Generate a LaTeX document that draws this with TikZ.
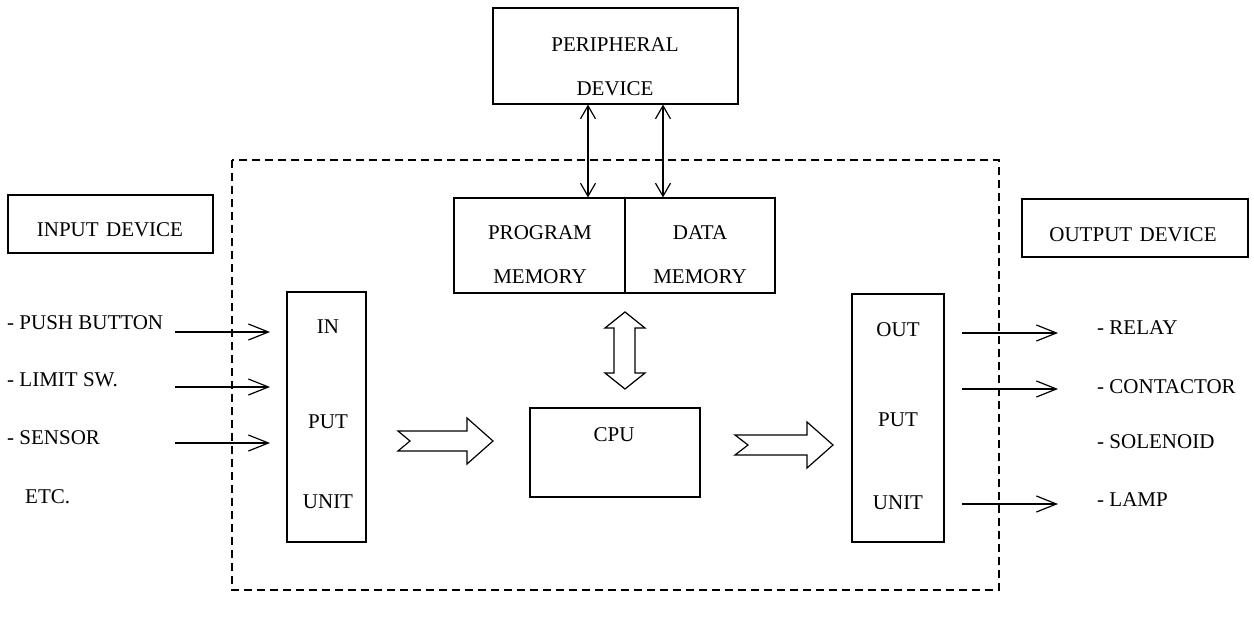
\documentclass[tikz,border=0pt]{standalone}
\usepackage{fontspec}
\setmainfont{Liberation Serif}
\usetikzlibrary{arrows.meta}
\begin{document}
\begin{tikzpicture}[x=1pt,y=-1pt,
  box/.style={draw, line width=1.2pt, inner sep=0pt},
  lbl/.style={font=\fontsize{21}{25}\selectfont, inner sep=0pt},
  sig/.style={line width=1.2pt, -{Straight Barb[length=20pt,width=16pt,line width=1.2pt]}},
  bidir/.style={line width=1.2pt, {Straight Barb[length=13pt,width=15pt,line width=1.2pt]}-{Straight Barb[length=13pt,width=15pt,line width=1.2pt]}},
  hollow/.style={draw, line width=1.2pt, line join=miter},
  frame/.style={draw, line width=2pt, dash pattern=on 8pt off 5pt}]
\useasboundingbox (0,0) rectangle (1254,618);

% dashed PLC frame
\draw[frame] (232,160) rectangle (999,590);

% boxes
\node[box, minimum width=245pt, minimum height=96pt] (per) at (615.5,56) {};
\node[box, minimum width=171pt, minimum height=95pt] (prog) at (539.5,245.5) {};
\node[box, minimum width=150pt, minimum height=95pt] (data) at (700,245.5) {};
\node[box, minimum width=205pt, minimum height=58pt] (indev) at (110.5,224) {};
\node[box, minimum width=226pt, minimum height=58pt] (outdev) at (1135,228) {};
\node[box, minimum width=79pt, minimum height=250pt] (inu) at (326.5,417) {};
\node[box, minimum width=92pt, minimum height=248pt] (outu) at (898,418) {};
\node[box, minimum width=170pt, minimum height=89pt] (cpu) at (615,452.5) {};

% box texts
\node[lbl] (t1) at (615,45) {PERIPHERAL};
\node[lbl] (t2) at (615,89) {DEVICE};
\node[lbl] (t3) at (540,233) {PROGRAM};
\node[lbl] (t4) at (540,277) {MEMORY};
\node[lbl] (t5) at (700,233) {DATA};
\node[lbl] (t6) at (700,277) {MEMORY};
\node[lbl] (t7) at (110,230) {INPUT\hspace{0.35em}DEVICE};
\node[lbl] (t8) at (1133,235) {OUTPUT\hspace{0.35em}DEVICE};
\node[lbl] (t9) at (328,327) {IN};
\node[lbl] (t10) at (328,422) {PUT};
\node[lbl] (t11) at (328,502) {UNIT};
\node[lbl] (t12) at (898,330) {OUT};
\node[lbl] (t13) at (898,420) {PUT};
\node[lbl] (t14) at (898,503) {UNIT};
\node[lbl] (t15) at (614,435) {CPU};

% input labels
\node[lbl, anchor=west] (i1) at (7,323) {- PUSH BUTTON};
\node[lbl, anchor=west] (i2) at (7,380) {- LIMIT SW.};
\node[lbl, anchor=west] (i3) at (7,438) {- SENSOR};
\node[lbl, anchor=west] (i4) at (25,497) {ETC.};

% output labels
\node[lbl, anchor=west] (o1) at (1097,328) {- RELAY};
\node[lbl, anchor=west] (o2) at (1097,387) {- CONTACTOR};
\node[lbl, anchor=west] (o3) at (1097,442) {- SOLENOID};
\node[lbl, anchor=west] (o4) at (1097,500) {- LAMP};

% input arrows
\coordinate (ia1) at (175,332); \coordinate (ib1) at (270,332);
\coordinate (ia2) at (175,387); \coordinate (ib2) at (270,387);
\coordinate (ia3) at (175,443); \coordinate (ib3) at (270,443);
\draw[sig] (ia1) -- (ib1);
\draw[sig] (ia2) -- (ib2);
\draw[sig] (ia3) -- (ib3);

% output arrows
\coordinate (oa1) at (962,333); \coordinate (ob1) at (1058,333);
\coordinate (oa2) at (962,389); \coordinate (ob2) at (1058,389);
\coordinate (oa4) at (962,504); \coordinate (ob4) at (1058,504);
\draw[sig] (oa1) -- (ob1);
\draw[sig] (oa2) -- (ob2);
\draw[sig] (oa4) -- (ob4);

% peripheral <-> memory
\coordinate (px1) at (588,0);
\coordinate (px2) at (663,0);
\draw[bidir] (px1 |- per.south) -- (px1 |- prog.north);
\draw[bidir] (px2 |- per.south) -- (px2 |- data.north);

% hollow arrows: input unit -> CPU, CPU -> output unit
\draw[hollow] (398,431) -- (467,431) -- (467,418) -- (493,441) -- (467,464) -- (467,451) -- (398,451) -- (410,441) -- cycle;
\draw[hollow] (735,435) -- (807,435) -- (807,422) -- (833,445) -- (807,468) -- (807,455) -- (735,455) -- (748,445) -- cycle;

% memory <-> CPU bus arrow
\draw[hollow] (625,312) -- (645,328) -- (635,328) -- (635,373) -- (645,373) -- (625,389) -- (605,373) -- (614,373) -- (614,328) -- (605,328) -- cycle;
\end{tikzpicture}
\end{document}
